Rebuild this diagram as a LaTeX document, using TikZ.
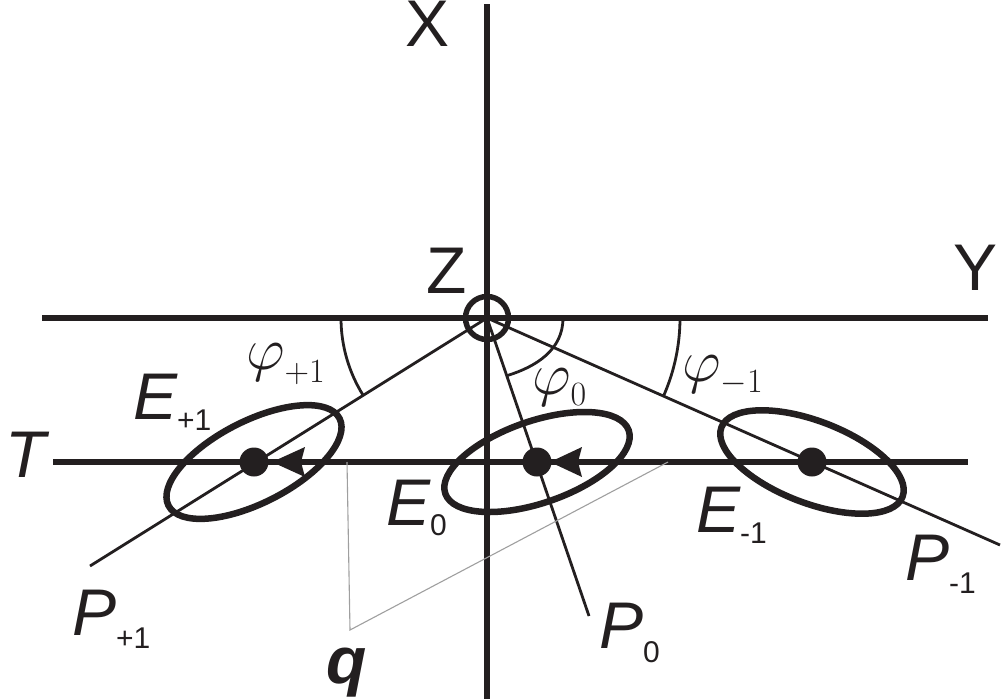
\documentclass[tikz,border=0pt]{standalone}
\usepackage{fix-cm}
\usepackage[no-math]{fontspec}
\newfontfamily\arial{Liberation Sans}
\definecolor{ink}{HTML}{231F20}
\newcommand\bigsz{\fontsize{66}{70}\selectfont}
\newcommand\subsz{\fontsize{30}{32}\selectfont}
\newcommand\phisz{\fontsize{60}{66}\selectfont}
\newcommand\phisub{\fontsize{34}{36}\selectfont}
\begin{document}
\begin{tikzpicture}[x=1pt,y=1pt,
  axis/.style={line width=6pt, draw=ink},
  ray/.style={line width=2.8pt, draw=ink},
  ell/.style={line width=6.5pt, draw=ink},
  thinline/.style={line width=1.1pt, draw=gray!75},
  dot/.style={circle, fill=ink, inner sep=0pt, minimum size=29pt},
  lab/.style={inner sep=0pt, anchor=base west, text=ink, font=\arial\bigsz},
  ilab/.style={inner sep=0pt, anchor=base west, text=ink, font=\arial\itshape\bigsz},
  qlab/.style={inner sep=0pt, anchor=base west, text=ink, font=\arial\bfseries\itshape\bigsz},
  philab/.style={inner sep=0pt, anchor=base west, text=ink, font=\phisz},
  tip/.style={fill=ink}]
\useasboundingbox (0,0) rectangle (1004,-699);
% axes
\coordinate (Z) at (487,-318);
\coordinate (Xt) at (487,-4);
\coordinate (Xb) at (487,-699);
\coordinate (Yl) at (42,-318);
\coordinate (Yr) at (988,-318);
\coordinate (Tl) at (53,-462);
\coordinate (Tr) at (968,-462);
\draw[axis] (Xt) -- (Xb);
\draw[axis] (Yl) -- (Yr);
\draw[axis] (Tl) -- (Tr);
\draw[line width=5.5pt, draw=ink] (Z) circle[radius=21.5pt];
% rays
\coordinate (p1) at (90,-566);
\coordinate (p0) at (589,-616);
\coordinate (pm) at (1000,-545);
\draw[ray] (Z) -- (p1);
\draw[ray] (Z) -- (p0);
\draw[ray] (Z) -- (pm);
% angle arcs
\draw[ray] ([shift={(180:146)}]Z) arc[start angle=180, end angle=211.9, radius=146];
\draw[ray] ([shift={(0:193)}]Z) arc[start angle=0, end angle=-23.9, radius=193];
\draw[ray] ([shift={(0:76)}]Z) to[out=-90, in=17] ([shift={(-71:61)}]Z);
% thin construction lines
\coordinate (q1) at (347,-462);
\coordinate (q2) at (350,-630);
\coordinate (q3) at (668,-462);
\draw[thinline] (q1) -- (q2) -- (q3);
% dots
\node[dot] (d1) at (254,-462) {};
\node[dot] (d0) at (537,-462) {};
\node[dot] (dm) at (812,-462) {};
% ellipses
\draw[ell, rotate around={27:(d1.center)}] (d1.center) ellipse[x radius=96pt, y radius=41pt];
\draw[ell, rotate around={19:(d0.center)}] (d0.center) ellipse[x radius=97pt, y radius=41pt];
\draw[ell, rotate around={-21:(dm.center)}] (dm.center) ellipse[x radius=97pt, y radius=41pt];
% arrow heads
\fill[tip] ([xshift=18pt]d1.center) -- ++(33,15) -- ++(-4,-15) -- ++(4,-15) -- cycle;
\fill[tip] ([xshift=13pt]d0.center) -- ++(32,15) -- ++(-4,-15) -- ++(4,-15) -- cycle;
% labels
\node[lab] (lX) at (405,-46) {X};
\node[lab] (lY) at (953,-290) {Y};
\node[lab] (lZ) at (426,-293) {Z};
\node[ilab] (lT) at (5,-477) {T};
\node[ilab] (lE1) at (133,-419) {E\raisebox{-11pt}{\upshape\subsz +1}};
\node[ilab] (lE0) at (386,-525) {E\raisebox{-10pt}{\upshape\subsz 0}};
\node[ilab] (lEm) at (696,-532) {E\raisebox{-11pt}{\upshape\subsz -1}};
\node[ilab] (lP1) at (72,-635) {P\raisebox{-13pt}{\upshape\subsz +1}};
\node[ilab] (lP0) at (599,-648) {P\raisebox{-14pt}{\upshape\subsz 0}};
\node[ilab] (lPm) at (905,-580) {P\raisebox{-13pt}{\upshape\subsz -1}};
\node[qlab] (lq) at (326,-683) {q};
\node[philab] (f1) at (246,-369) {$\varphi$\raisebox{-13pt}{\phisub$+1$}};
\node[philab] (f0) at (532,-394) {$\varphi$\raisebox{-11pt}{\phisub$0$}};
\node[philab] (fm) at (682,-381) {$\varphi$\raisebox{-11pt}{\phisub$-1$}};
\end{tikzpicture}
\end{document}
